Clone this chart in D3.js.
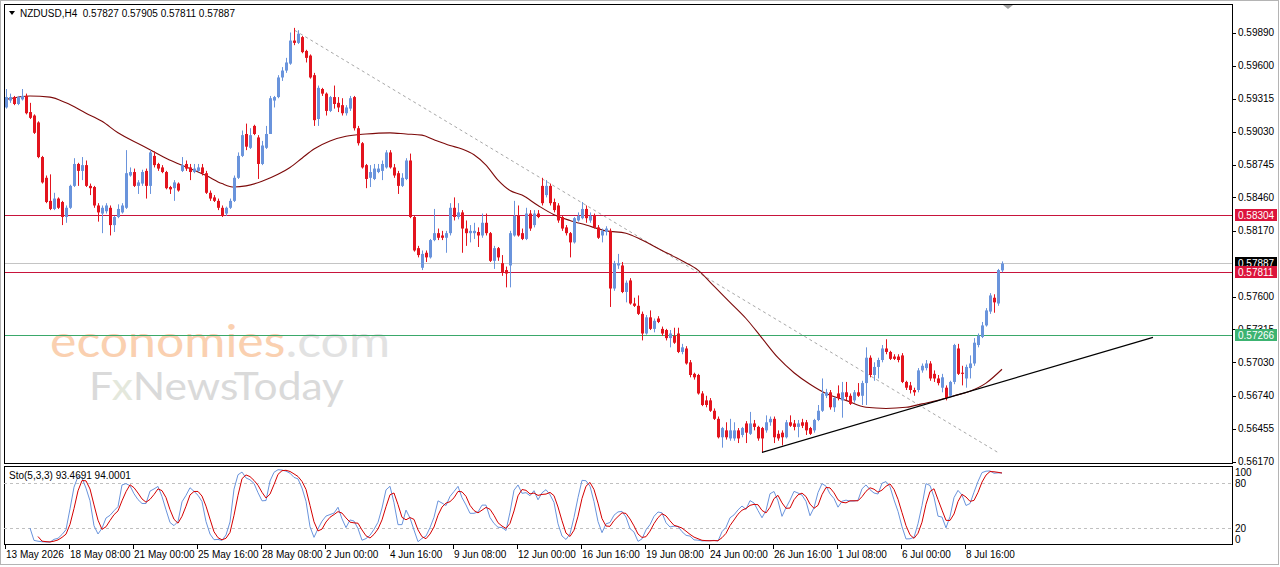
<!DOCTYPE html>
<html>
<head>
<meta charset="utf-8">
<title>NZDUSD,H4</title>
<script src="https://cdn.jsdelivr.net/npm/d3@7"></script>
<style>
	body { margin: 0; background: #fff; }
	svg { display: block; font-family: "Liberation Sans", Arial, sans-serif; font-size: 10px; }
</style>
</head>
<body>
<svg id="chart" width="1280" height="567"></svg>
<script>
// H4 bars, 13 May 2026 16:00 -> 10 Jul 2026 04:00
var openP = [
	0.5924,0.5930,0.5933,0.5927,0.5931,0.5934,0.5920,0.5917,0.5911,0.5881,
	0.5863,0.5843,0.5836,0.5845,0.5842,0.5829,0.5837,0.5856,0.5875,0.5869,
	0.5874,0.5856,0.5855,0.5839,0.5832,0.5834,0.5837,0.5822,0.5829,0.5833,
	0.5837,0.5865,0.5868,0.5856,0.5858,0.5869,0.5856,0.5882,0.5875,0.5872,
	0.5868,0.5855,0.5854,0.5858,0.5869,0.5875,0.5872,0.5868,0.5869,0.5872,
	0.5867,0.5850,0.5846,0.5843,0.5837,0.5832,0.5837,0.5843,0.5863,0.5882,
	0.5901,0.5889,0.5908,0.5898,0.5875,0.5889,0.5901,0.5930,0.5933,0.5950,
	0.5956,0.5962,0.5982,0.5980,0.5985,0.5973,0.5969,0.5952,0.5914,0.5940,
	0.5936,0.5921,0.5933,0.5928,0.5926,0.5919,0.5923,0.5933,0.5906,0.5893,
	0.5874,0.5863,0.5862,0.5868,0.5869,0.5872,0.5885,0.5872,0.5867,0.5856,
	0.5862,0.5878,0.5829,0.5802,0.5785,0.5798,0.5794,0.5809,0.5815,0.5813,
	0.5811,0.5815,0.5837,0.5829,0.5833,0.5819,0.5815,0.5815,0.5816,0.5813,
	0.5824,0.5815,0.5791,0.5802,0.5789,0.5783,0.5787,0.5813,0.5830,0.5815,
	0.5810,0.5832,0.5822,0.5832,0.5856,0.5848,0.5856,0.5842,0.5839,0.5829,
	0.5820,0.5815,0.5807,0.5826,0.5828,0.5836,0.5826,0.5830,0.5820,0.5813,
	0.5816,0.5817,0.5767,0.5787,0.5787,0.5764,0.5774,0.5754,0.5752,0.5745,
	0.5728,0.5742,0.5732,0.5741,0.5732,0.5731,0.5724,0.5726,0.5728,0.5712,
	0.5715,0.5703,0.5693,0.5692,0.5676,0.5670,0.5670,0.5661,0.5654,0.5638,
	0.5644,0.5637,0.5637,0.5644,0.5640,0.5650,0.5641,0.5650,0.5647,0.5646,
	0.5644,0.5651,0.5654,0.5641,0.5642,0.5638,0.5651,0.5650,0.5647,0.5651,
	0.5651,0.5646,0.5644,0.5653,0.5661,0.5674,0.5677,0.5664,0.5676,0.5670,
	0.5677,0.5674,0.5670,0.5677,0.5674,0.5685,0.5707,0.5692,0.5699,0.5705,
	0.5715,0.5712,0.5708,0.5708,0.5709,0.5686,0.5683,0.5679,0.5679,0.5696,
	0.5698,0.5702,0.5693,0.5689,0.5681,0.5681,0.5674,0.5686,0.5715,0.5694,
	0.5689,0.5698,0.5702,0.5718,0.5725,0.5735,0.5747,0.5759,0.5754,0.57827
];
var highP = [
	0.5940,0.5936,0.5934,0.5934,0.5940,0.5936,0.5928,0.5918,0.5912,0.5882,
	0.5865,0.5866,0.5850,0.5846,0.5843,0.5839,0.5857,0.5880,0.5876,0.5881,
	0.5878,0.5858,0.5856,0.5841,0.5839,0.5841,0.5839,0.5830,0.5840,0.5841,
	0.5887,0.5872,0.5871,0.5861,0.5870,0.5871,0.5887,0.5886,0.5876,0.5874,
	0.5869,0.5856,0.5861,0.5859,0.5881,0.5878,0.5875,0.5875,0.5875,0.5875,
	0.5869,0.5852,0.5848,0.5845,0.5839,0.5838,0.5845,0.5865,0.5885,0.5904,
	0.5910,0.5906,0.5909,0.5900,0.5895,0.5908,0.5934,0.5934,0.5952,0.5959,
	0.5967,0.5989,0.5993,0.5991,0.5986,0.5974,0.5970,0.5954,0.5943,0.5941,
	0.5937,0.5934,0.5943,0.5933,0.5932,0.5926,0.5934,0.5934,0.5908,0.5894,
	0.5875,0.5874,0.5875,0.5875,0.5878,0.5887,0.5887,0.5875,0.5869,0.5867,
	0.5880,0.5884,0.5830,0.5804,0.5800,0.5800,0.5810,0.5836,0.5819,0.5817,
	0.5817,0.5841,0.5846,0.5841,0.5835,0.5826,0.5822,0.5824,0.5820,0.5832,
	0.5832,0.5816,0.5804,0.5803,0.5796,0.5786,0.5817,0.5843,0.5839,0.5819,
	0.5837,0.5835,0.5835,0.5835,0.5863,0.5861,0.5858,0.5845,0.5841,0.5830,
	0.5822,0.5816,0.5829,0.5833,0.5842,0.5839,0.5833,0.5832,0.5822,0.5819,
	0.5821,0.5819,0.5791,0.5797,0.5790,0.5774,0.5776,0.5759,0.5761,0.5747,
	0.5744,0.5748,0.5741,0.5743,0.5734,0.5732,0.5731,0.5733,0.5733,0.5719,
	0.5717,0.5705,0.5694,0.5693,0.5678,0.5674,0.5672,0.5663,0.5656,0.5647,
	0.5651,0.5654,0.5651,0.5646,0.5647,0.5652,0.5660,0.5653,0.5648,0.5647,
	0.5657,0.5656,0.5656,0.5644,0.5644,0.5653,0.5657,0.5653,0.5653,0.5654,
	0.5653,0.5647,0.5654,0.5666,0.5689,0.5680,0.5679,0.5673,0.5683,0.5686,
	0.5686,0.5676,0.5679,0.5685,0.5687,0.5716,0.5709,0.5703,0.5707,0.5718,
	0.5723,0.5713,0.5710,0.5710,0.5711,0.5687,0.5686,0.5681,0.5698,0.5702,
	0.5705,0.5704,0.5696,0.5692,0.5693,0.5683,0.5687,0.5719,0.5719,0.5700,
	0.5701,0.5709,0.5724,0.5728,0.5738,0.5750,0.5763,0.5762,0.5784,0.57905
];
var lowP = [
	0.5923,0.5928,0.5926,0.5926,0.5930,0.5918,0.5914,0.5901,0.5880,0.5858,
	0.5841,0.5835,0.5835,0.5836,0.5822,0.5824,0.5836,0.5855,0.5856,0.5861,
	0.5855,0.5848,0.5837,0.5825,0.5815,0.5832,0.5813,0.5816,0.5828,0.5832,
	0.5836,0.5864,0.5855,0.5849,0.5856,0.5845,0.5849,0.5872,0.5869,0.5867,
	0.5853,0.5849,0.5843,0.5851,0.5868,0.5869,0.5861,0.5867,0.5868,0.5865,
	0.5849,0.5843,0.5842,0.5835,0.5829,0.5830,0.5836,0.5842,0.5862,0.5881,
	0.5887,0.5888,0.5900,0.5862,0.5874,0.5888,0.5901,0.5924,0.5932,0.5947,
	0.5954,0.5961,0.5978,0.5979,0.5971,0.5963,0.5949,0.5908,0.5908,0.5934,
	0.5917,0.5920,0.5923,0.5920,0.5917,0.5917,0.5921,0.5904,0.5891,0.5871,
	0.5854,0.5855,0.5861,0.5867,0.5861,0.5871,0.5871,0.5863,0.5849,0.5855,
	0.5861,0.5828,0.5799,0.5794,0.5783,0.5790,0.5793,0.5808,0.5809,0.5809,
	0.5798,0.5813,0.5826,0.5827,0.5798,0.5804,0.5807,0.5810,0.5803,0.5811,
	0.5813,0.5790,0.5784,0.5791,0.5778,0.5768,0.5768,0.5812,0.5812,0.5809,
	0.5809,0.5817,0.5820,0.5828,0.5839,0.5846,0.5839,0.5833,0.5824,0.5817,
	0.5813,0.5794,0.5806,0.5825,0.5827,0.5824,0.5824,0.5819,0.5810,0.5807,
	0.5813,0.5751,0.5765,0.5784,0.5763,0.5755,0.5753,0.5751,0.5744,0.5722,
	0.5727,0.5731,0.5729,0.5737,0.5726,0.5722,0.5716,0.5719,0.5711,0.5710,
	0.5701,0.5690,0.5688,0.5675,0.5665,0.5664,0.5660,0.5653,0.5637,0.5629,
	0.5636,0.5635,0.5635,0.5633,0.5638,0.5633,0.5640,0.5644,0.5635,0.5625,
	0.5642,0.5648,0.5633,0.5635,0.5631,0.5637,0.5647,0.5644,0.5638,0.5646,
	0.5640,0.5640,0.5642,0.5652,0.5660,0.5672,0.5662,0.5660,0.5670,0.5655,
	0.5670,0.5666,0.5668,0.5673,0.5666,0.5666,0.5690,0.5687,0.5689,0.5703,
	0.5710,0.5705,0.5705,0.5703,0.5685,0.5679,0.5676,0.5674,0.5677,0.5694,
	0.5696,0.5687,0.5686,0.5683,0.5677,0.5670,0.5673,0.5684,0.5692,0.5683,
	0.5681,0.5689,0.5700,0.5716,0.5724,0.5734,0.5745,0.5746,0.5752,0.57811
];
var closeP = [
	0.5933,0.5933,0.5927,0.5933,0.5934,0.5919,0.5915,0.5902,0.5881,0.5859,
	0.5842,0.5836,0.5845,0.5837,0.5829,0.5837,0.5856,0.5875,0.5869,0.5874,
	0.5856,0.5854,0.5839,0.5833,0.5837,0.5839,0.5822,0.5829,0.5836,0.5839,
	0.5867,0.5868,0.5856,0.5859,0.5868,0.5856,0.5885,0.5874,0.5871,0.5868,
	0.5854,0.5853,0.5859,0.5852,0.5874,0.5871,0.5868,0.5871,0.5872,0.5867,
	0.5850,0.5845,0.5843,0.5837,0.5830,0.5837,0.5843,0.5863,0.5882,0.5900,
	0.5890,0.5900,0.5901,0.5875,0.5891,0.5901,0.5932,0.5933,0.5950,0.5956,
	0.5963,0.5982,0.5980,0.5988,0.5972,0.5967,0.5950,0.5913,0.5941,0.5936,
	0.5921,0.5933,0.5927,0.5924,0.5919,0.5924,0.5932,0.5906,0.5893,0.5872,
	0.5862,0.5868,0.5871,0.5871,0.5875,0.5885,0.5872,0.5865,0.5856,0.5863,
	0.5878,0.5829,0.5800,0.5796,0.5797,0.5794,0.5809,0.5815,0.5811,0.5811,
	0.5815,0.5837,0.5829,0.5833,0.5819,0.5815,0.5817,0.5817,0.5813,0.5824,
	0.5815,0.5791,0.5802,0.5794,0.5781,0.5780,0.5815,0.5830,0.5813,0.5810,
	0.5832,0.5819,0.5832,0.5829,0.5841,0.5856,0.5841,0.5835,0.5826,0.5819,
	0.5815,0.5807,0.5828,0.5830,0.5836,0.5828,0.5830,0.5820,0.5811,0.5817,
	0.5819,0.5767,0.5789,0.5789,0.5764,0.5772,0.5754,0.5752,0.5745,0.5728,
	0.5742,0.5732,0.5739,0.5738,0.5728,0.5724,0.5728,0.5720,0.5712,0.5716,
	0.5702,0.5692,0.5690,0.5676,0.5666,0.5666,0.5661,0.5654,0.5638,0.5646,
	0.5638,0.5644,0.5644,0.5637,0.5646,0.5642,0.5650,0.5647,0.5637,0.5637,
	0.5651,0.5654,0.5638,0.5637,0.5638,0.5651,0.5648,0.5647,0.5650,0.5648,
	0.5644,0.5641,0.5653,0.5661,0.5676,0.5677,0.5664,0.5672,0.5672,0.5677,
	0.5673,0.5667,0.5677,0.5674,0.5685,0.5707,0.5692,0.5699,0.5705,0.5715,
	0.5712,0.5706,0.5706,0.5705,0.5686,0.5681,0.5679,0.5677,0.5696,0.5700,
	0.5702,0.5689,0.5689,0.5685,0.5690,0.5672,0.5686,0.5718,0.5693,0.5693,
	0.5699,0.5702,0.5720,0.5726,0.5735,0.5748,0.5761,0.5755,0.5783,0.57887
];

// moving average, read at some bars
var maBars = [0,6,11,15,20,24,28,34,40,46,50,54,57,60,64,68,71,74,77,81,85,90,96,100,104,107,111,114,117,120,
	123,126,129,133,137,141,145,150,155,159,164,169,173,177,181,185,189,193,197,201,205,210,215,220,225,229,233,237,241,245,249];
var maValues = [0.5931,0.5934,0.5933,0.5928,0.5919,0.5912,0.5902,0.5891,0.5880,0.5871,0.5865,0.5858,0.5855,0.5856,0.5860,
	0.5866,0.5872,0.5880,0.5888,0.5895,0.5899,0.5901,0.5902,0.5901,0.5900,0.5896,0.5891,0.5888,0.5883,0.5874,
	0.5861,0.5852,0.5848,0.5839,0.5831,0.5826,0.5822,0.5817,0.5815,0.5809,0.5800,0.5791,0.5783,0.5769,0.5755,
	0.5741,0.5724,0.5707,0.5694,0.5684,0.5676,0.5670,0.5664,0.5663,0.5664,0.5667,0.5670,0.5674,0.5678,0.5685,0.5697];

// levels
var redLevels = [0.58304, 0.57811];
var greenLevel = 0.57266;
var bidPrice = 0.57887;

// trend lines: [bar, price]
var dashedTrend = [[72.25, 0.59907], [248, 0.56248]];
var supportTrend = [[189, 0.56249], [286.75, 0.57246]];

// 0.57885 sits under the bid tag, so it is left out
var priceTicks = [0.59890, 0.59600, 0.59315, 0.59030, 0.58745, 0.58460, 0.58170,
	0.57600, 0.57315, 0.57030, 0.56740, 0.56455, 0.56170];
var timeTickBars = [0,16,32,48,64,80,96,112,128,144,160,176,192,208,224,240];
var timeTickLabels = ['13 May 2026','18 May 08:00','21 May 00:00','25 May 16:00','28 May 08:00',
	'2 Jun 00:00','4 Jun 16:00','9 Jun 08:00','12 Jun 00:00','16 Jun 16:00','19 Jun 08:00',
	'24 Jun 00:00','26 Jun 16:00','1 Jul 08:00','6 Jul 00:00','8 Jul 16:00'];
var stoTicks = [100, 80, 20, 0];

var upColor = '#6a94dc', downColor = '#e3141e';

var main = {left: 4, right: 1232, top: 4, bottom: 464};
var sub = {top: 466, bottom: 544};

var svg = d3.select('#chart');

var x = d3.scaleLinear().domain([0, 249]).range([6, 1002]);
var y = d3.scaleLinear().domain([0.56170, 0.59890]).range([461.5, 32.5]);
var ys = d3.scaleLinear().domain([0, 100]).range([543, 468]);

// outer frame
svg.append('rect')
	.attr('x', 0.5).attr('y', 0.5).attr('width', 1278).attr('height', 564)
	.style('fill', 'none').style('stroke', '#b4b4b4');

var defs = svg.append('defs');
defs.append('clipPath').attr('id', 'clipMain').append('rect')
	.attr('x', main.left).attr('y', main.top)
	.attr('width', main.right - main.left).attr('height', main.bottom - main.top);
defs.append('clipPath').attr('id', 'clipSub').append('rect')
	.attr('x', main.left).attr('y', sub.top)
	.attr('width', main.right - main.left).attr('height', sub.bottom - sub.top);

var g = svg.append('g').attr('clip-path', 'url(#clipMain)');

// watermark
var wm1 = g.append('text')
	.attr('x', 50).attr('y', 357)
	.style('font-family', 'Lato, "Open Sans", sans-serif')
	.style('font-size', '44px')
	.attr('textLength', 340).attr('lengthAdjust', 'spacingAndGlyphs');
wm1.append('tspan').style('fill', '#fad0b0').text('economies');
wm1.append('tspan').style('fill', '#e2e2e2').text('.com');

var wm2 = g.append('text')
	.attr('x', 89).attr('y', 400)
	.style('font-family', 'Lato, "Open Sans", sans-serif')
	.style('font-size', '39px')
	.attr('textLength', 255).attr('lengthAdjust', 'spacingAndGlyphs');
wm2.append('tspan').style('fill', '#dadada').text('F');
wm2.append('tspan').style('fill', '#e4e8dc').text('x');
wm2.append('tspan').style('fill', '#dadada').text('NewsToday');

// horizontal levels
g.append('line')
	.attr('x1', main.left).attr('x2', main.right)
	.attr('y1', Math.round(y(bidPrice)) + 0.5).attr('y2', Math.round(y(bidPrice)) + 0.5)
	.style('stroke', '#c4c4c4');
g.selectAll('.redlevel')
	.data(redLevels)
.enter().append('line')
	.attr('class', 'redlevel')
	.attr('x1', main.left).attr('x2', main.right)
	.attr('y1', function(d) { return Math.round(y(d)) + 0.5; })
	.attr('y2', function(d) { return Math.round(y(d)) + 0.5; })
	.style('stroke', '#c8143c');
g.append('line')
	.attr('x1', main.left).attr('x2', main.right)
	.attr('y1', Math.round(y(greenLevel)) + 0.5).attr('y2', Math.round(y(greenLevel)) + 0.5)
	.style('stroke', '#3aa86a');

// dashed trend line
g.append('line')
	.attr('x1', x(dashedTrend[0][0])).attr('y1', y(dashedTrend[0][1]))
	.attr('x2', x(dashedTrend[1][0])).attr('y2', y(dashedTrend[1][1]))
	.style('stroke', '#a8a8a8')
	.style('stroke-dasharray', '3,3');

// moving average
var maLine = d3.line()
	.x(function(d, i) { return x(maBars[i]); })
	.y(function(d) { return y(d); })
	.curve(d3.curveMonotoneX);
g.append('path')
	.datum(maValues)
	.attr('d', maLine)
	.style('fill', 'none')
	.style('stroke', '#7d0a0a')
	.style('stroke-width', 1.1);

// candles
var bars = d3.range(closeP.length);
var candle = g.selectAll('.candle')
	.data(bars)
.enter().append('g')
	.attr('class', 'candle');

candle.append('line')
	.attr('x1', function(i) { return x(i) + 0.5; })
	.attr('x2', function(i) { return x(i) + 0.5; })
	.attr('y1', function(i) { return y(highP[i]); })
	.attr('y2', function(i) { return y(lowP[i]); })
	.style('stroke', function(i) { return closeP[i] >= openP[i] ? upColor : downColor; });

candle.append('rect')
	.attr('x', function(i) { return x(i) - 1; })
	.attr('width', 3)
	.attr('y', function(i) { return y(Math.max(openP[i], closeP[i])); })
	.attr('height', function(i) {
		return Math.max(1, Math.abs(y(openP[i]) - y(closeP[i])));
	})
	.style('fill', function(i) { return closeP[i] >= openP[i] ? upColor : downColor; });

// support trend line
g.append('line')
	.attr('x1', x(supportTrend[0][0])).attr('y1', y(supportTrend[0][1]))
	.attr('x2', x(supportTrend[1][0])).attr('y2', y(supportTrend[1][1]))
	.style('stroke', '#000')
	.style('stroke-width', 1.2);

// chart shift marker
svg.append('path')
	.attr('d', 'M1003,5 L1013,5 L1008,9 Z')
	.style('fill', '#a0a0a0');

// title
svg.append('path')
	.attr('d', 'M9,11 L15,11 L12,15 Z')
	.style('fill', '#000');
svg.append('text')
	.attr('x', 20).attr('y', 17)
	.attr('xml:space', 'preserve')
	.style('fill', '#000')
	.text('NZDUSD,H4  0.57827 0.57905 0.57811 0.57887');

// panel frames
svg.append('rect')
	.attr('x', main.left + 0.5).attr('y', main.top + 0.5)
	.attr('width', main.right - main.left).attr('height', main.bottom - main.top - 1)
	.style('fill', 'none').style('stroke', '#000');
svg.append('rect')
	.attr('x', main.left + 0.5).attr('y', sub.top + 0.5)
	.attr('width', main.right - main.left).attr('height', sub.bottom - sub.top)
	.style('fill', 'none').style('stroke', '#000');

// price axis
var yAxis = svg.append('g');
yAxis.selectAll('line')
	.data(priceTicks)
.enter().append('line')
	.attr('x1', main.right).attr('x2', main.right + 4)
	.attr('y1', function(d) { return Math.round(y(d)) + 0.5; })
	.attr('y2', function(d) { return Math.round(y(d)) + 0.5; })
	.style('stroke', '#000');
yAxis.selectAll('text')
	.data(priceTicks)
.enter().append('text')
	.attr('x', main.right + 6)
	.attr('y', function(d) { return y(d); })
	.attr('dy', '0.35em')
	.style('fill', '#000')
	.text(function(d) { return d.toFixed(5); });

// price tags
function priceTag(value, fill) {
	var yy = Math.round(y(value));
	svg.append('rect')
		.attr('x', main.right + 3).attr('y', yy - 6)
		.attr('width', 42).attr('height', 12)
		.style('fill', fill);
	svg.append('text')
		.attr('x', main.right + 6).attr('y', yy)
		.attr('dy', '0.36em')
		.style('fill', '#fff')
		.text(value.toFixed(5));
}
priceTag(redLevels[0], '#dc143c');
priceTag(bidPrice, '#000');
priceTag(redLevels[1], '#dc143c');
priceTag(greenLevel, '#3cb371');

// stochastic 5,3,3 from the candles
function stochastic(kPeriod, slowing, dPeriod) {
	var k = [], d = [];
	for (var i = 0; i < closeP.length; i++) {
		if (i < kPeriod + slowing - 2) { k.push(null); continue; }
		var num = 0, den = 0;
		for (var j = i - slowing + 1; j <= i; j++) {
			var hh = d3.max(highP.slice(j - kPeriod + 1, j + 1));
			var ll = d3.min(lowP.slice(j - kPeriod + 1, j + 1));
			num += closeP[j] - ll;
			den += hh - ll;
		}
		k.push(den ? 100 * num / den : 50);
	}
	for (var i = 0; i < k.length; i++) {
		var w = k.slice(Math.max(0, i - dPeriod + 1), i + 1);
		if (w.length < dPeriod || w.indexOf(null) >= 0) { d.push(null); continue; }
		d.push(d3.mean(w));
	}
	return {k: k, d: d};
}
var sto = stochastic(5, 3, 3);

var gs = svg.append('g').attr('clip-path', 'url(#clipSub)');
gs.selectAll('.stolevel')
	.data([80, 20])
.enter().append('line')
	.attr('x1', main.left).attr('x2', main.right)
	.attr('y1', function(d) { return Math.round(ys(d)) + 0.5; })
	.attr('y2', function(d) { return Math.round(ys(d)) + 0.5; })
	.style('stroke', '#c0c0c0')
	.style('stroke-dasharray', '3,3');

var stoLine = d3.line()
	.defined(function(d) { return d !== null; })
	.x(function(d, i) { return x(i); })
	.y(function(d) { return ys(d); });
gs.append('path')
	.datum(sto.k)
	.attr('d', stoLine)
	.style('fill', 'none').style('stroke', '#6a94dc');
gs.append('path')
	.datum(sto.d)
	.attr('d', stoLine)
	.style('fill', 'none').style('stroke', '#d40000');

svg.append('text')
	.attr('x', 9).attr('y', 479)
	.style('fill', '#000')
	.text('Sto(5,3,3) 93.4691 94.0001');

svg.selectAll('.stotick')
	.data(stoTicks)
.enter().append('text')
	.attr('class', 'stotick')
	.attr('x', main.right + 3)
	.attr('y', function(d) { return ys(d); })
	.attr('dy', function(d) { return d === 100 ? '0.75em' : (d === 0 ? '-0.05em' : '0.35em'); })
	.style('fill', '#000')
	.text(function(d) { return d; });

// time axis
svg.selectAll('.ttick')
	.data(timeTickBars)
.enter().append('line')
	.attr('class', 'ttick')
	.attr('x1', function(d) { return x(d) - 0.5; })
	.attr('x2', function(d) { return x(d) - 0.5; })
	.attr('y1', sub.bottom + 1).attr('y2', sub.bottom + 5)
	.style('stroke', '#000');
svg.selectAll('.tlabel')
	.data(timeTickLabels)
.enter().append('text')
	.attr('class', 'tlabel')
	.attr('x', function(d, i) { return x(timeTickBars[i]); })
	.attr('y', 558)
	.style('fill', '#000')
	.text(function(d) { return d; });
</script>
</body>
</html>
